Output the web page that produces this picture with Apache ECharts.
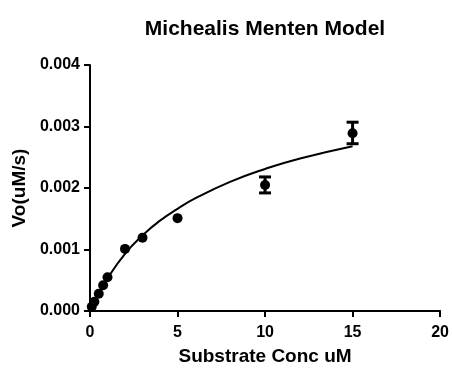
<!DOCTYPE html>
<html>
<head>
<meta charset="utf-8">
<script src="https://cdn.jsdelivr.net/npm/echarts@6/dist/echarts.min.js"></script>
<style>
html, body { margin: 0; padding: 0; background: #fff; }
#chart { width: 452px; height: 371px; }
</style>
</head>
<body>
<div id="chart"></div>
<script>
// measured points (substrate conc uM, Vo uM/s)
var concX = [0.1, 0.25, 0.5, 0.75, 1, 2, 3, 5, 10, 15];
var rateY = [0.00007, 0.00015, 0.00028, 0.00042, 0.00055, 0.00101, 0.00119, 0.00151, 0.00205, 0.00289];

// error bars
var errX = [10, 15];
var errLow = [0.00192, 0.00272];
var errHigh = [0.00218, 0.00307];

// fitted curve
var fitX = [0, 0.5, 1, 2, 3, 4, 5, 6, 8, 10, 12, 15];
var fitY = [0, 0.00028, 0.00053, 0.00093, 0.00123, 0.00147, 0.00166, 0.00183, 0.00210, 0.00231, 0.00248, 0.00268];

var xTicks = [0, 5, 10, 15, 20];
var yTicks = [0, 0.001, 0.002, 0.003, 0.004];

var FONT = '"Liberation Sans", Arial, sans-serif';

(function() {
	var chart = echarts.init(document.getElementById('chart'));

	var pts = concX.map(function(x, i) { return [x, rateY[i]]; });
	var fit = fitX.map(function(x, i) { return [x, fitY[i]]; });
	var errs = errX.map(function(x, i) { return [x, errLow[i], errHigh[i]]; });

	chart.setOption({
		animation: false,
		title: {
			text: 'Michealis Menten Model',
			left: 260,
			top: 14,
			textAlign: 'center',
			textStyle: { fontFamily: FONT, fontSize: 21, fontWeight: 'bold', color: '#000' }
		},
		grid: { left: 90, right: 11, top: 65, bottom: 58 },
		xAxis: {
			type: 'value',
			min: xTicks[0],
			max: xTicks[xTicks.length - 1],
			interval: 5,
			name: 'Substrate Conc uM',
			nameLocation: 'middle',
			nameGap: 36,
			nameTextStyle: { fontFamily: FONT, fontSize: 19, fontWeight: 'bold', color: '#000' },
			axisLine: { onZero: false, lineStyle: { color: '#000', width: 2 } },
			axisTick: { length: 6, lineStyle: { color: '#000', width: 2 } },
			axisLabel: { fontFamily: FONT, fontSize: 16, fontWeight: 'bold', color: '#000', margin: 14 },
			splitLine: { show: false }
		},
		yAxis: {
			type: 'value',
			min: yTicks[0],
			max: yTicks[yTicks.length - 1],
			interval: 0.001,
			name: 'Vo(uM/s)',
			nameLocation: 'middle',
			nameGap: 57,
			nameTextStyle: { fontFamily: FONT, fontSize: 19, fontWeight: 'bold', color: '#000' },
			axisLine: { show: true, onZero: false, lineStyle: { color: '#000', width: 2 } },
			axisTick: { show: true, length: 6, lineStyle: { color: '#000', width: 2 } },
			axisLabel: {
				fontFamily: FONT, fontSize: 16, fontWeight: 'bold', color: '#000', margin: 10,
				formatter: function(v) { return v.toFixed(3); }
			},
			splitLine: { show: false }
		},
		series: [{
			type: 'line',
			data: fit,
			smooth: true,
			symbol: 'none',
			lineStyle: { color: '#000', width: 2 },
			z: 2
		}, {
			type: 'custom',
			data: errs,
			renderItem: function(params, api) {
				var x = api.value(0);
				var lo = api.coord([x, api.value(1)]);
				var hi = api.coord([x, api.value(2)]);
				var w = 6;
				return {
					type: 'group',
					children: [{
						type: 'line',
						shape: { x1: lo[0], y1: lo[1], x2: hi[0], y2: hi[1] },
						style: { stroke: '#000', lineWidth: 3 }
					}, {
						type: 'line',
						shape: { x1: lo[0] - w, y1: lo[1], x2: lo[0] + w, y2: lo[1] },
						style: { stroke: '#000', lineWidth: 3 }
					}, {
						type: 'line',
						shape: { x1: hi[0] - w, y1: hi[1], x2: hi[0] + w, y2: hi[1] },
						style: { stroke: '#000', lineWidth: 3 }
					}]
				};
			},
			z: 3
		}, {
			type: 'scatter',
			data: pts,
			symbol: 'circle',
			symbolSize: 10,
			itemStyle: { color: '#000', opacity: 1 },
			z: 4
		}]
	});
})();
</script>
</body>
</html>
